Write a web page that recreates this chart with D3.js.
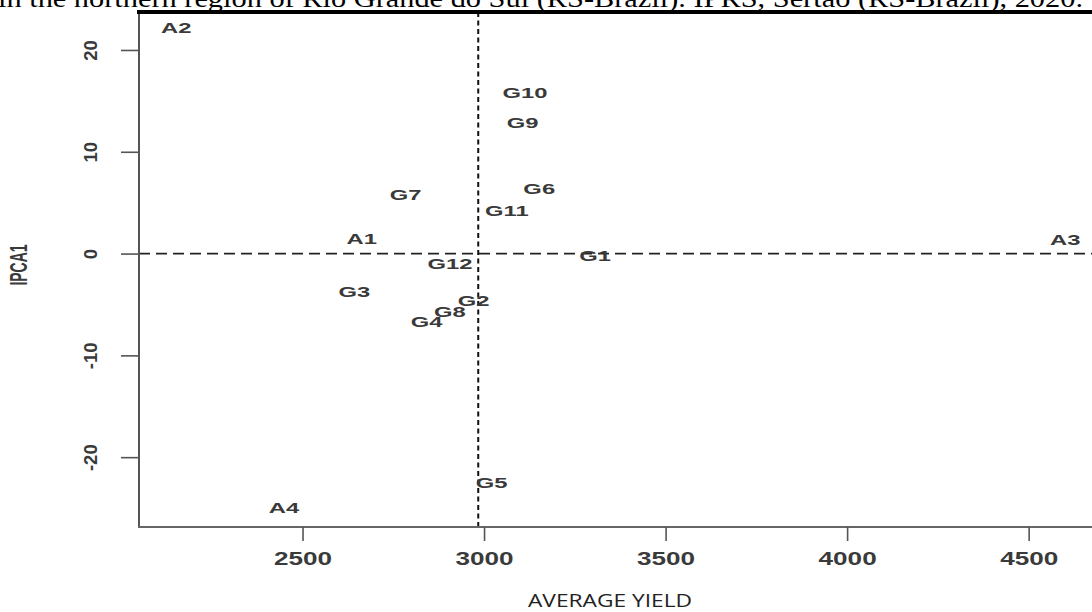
<!DOCTYPE html>
<html>
<head>
<meta charset="utf-8">
<script src="https://cdn.jsdelivr.net/npm/d3@7"></script>
<style>
  html, body { margin: 0; padding: 0; background: #fff; }
  svg { display: block; }
</style>
</head>
<body>
<svg id="chart" width="1092" height="612"></svg>
<script>
// ---- data ----
const pointLabels = ["A1","A2","A3","A4","G1","G2","G3","G4","G5","G6","G7","G8","G9","G10","G11","G12"];
const avgYield    = [2663, 2152, 4601, 2449, 3306, 2971, 2643, 2842, 3021, 3152, 2784, 2906, 3106, 3113, 3063, 2906];
const ipca1       = [1.4, 22.2, 1.3, -25.0, -0.2, -4.7, -3.8, -6.7, -22.5, 6.3, 5.8, -5.7, 12.8, 15.8, 4.2, -1.0];
const meanYield = 2984;
const xTickValues = [2500, 3000, 3500, 4000, 4500];
const yTickValues = [-20, -10, 0, 10, 20];
const xTitle = "AVERAGE YIELD";
const yTitle = "IPCA1";
const caption = "in the northern region of Rio Grande do Sul (RS-Brazil). IPRS, Sertão (RS-Brazil), 2020.";

// ---- layout ----
const svg = d3.select("#chart");
const L = 139, R = 1094, T = 12, B = 527;
const x = d3.scaleLinear().domain([2049.6, 4680]).range([L, R]);
const y = d3.scaleLinear().domain([-26.86, 23.73]).range([B, T]);
const sansFont = "'Liberation Sans', Arial, Helvetica, sans-serif";
const txtCol = "#3a3a3a";
const plainFmt = d => String(d);

// caption (cut at top, as in the source figure)
svg.append("text")
  .attr("x", -2).attr("y", 7)
  .attr("font-family", "'Liberation Serif', 'Times New Roman', serif")
  .attr("font-size", 26)
  .attr("textLength", 1085)
  .attr("lengthAdjust", "spacingAndGlyphs")
  .attr("fill", "#000")
  .text(caption);

// reference lines
svg.append("line")
  .attr("x1", L).attr("x2", R).attr("y1", y(0)).attr("y2", y(0))
  .attr("stroke", "#222").attr("stroke-width", 1.7).attr("stroke-dasharray", "11,6");
svg.append("line")
  .attr("x1", x(meanYield)).attr("x2", x(meanYield)).attr("y1", T).attr("y2", B)
  .attr("stroke", "#111").attr("stroke-width", 2).attr("stroke-dasharray", "5,3.5");

// box
svg.append("line").attr("x1", L).attr("x2", L).attr("y1", T).attr("y2", B)
  .attr("stroke", "#555").attr("stroke-width", 2);
svg.append("line").attr("x1", L - 1).attr("x2", R).attr("y1", B).attr("y2", B)
  .attr("stroke", "#666").attr("stroke-width", 2);
svg.append("line").attr("x1", L - 2).attr("x2", 1092).attr("y1", T).attr("y2", T)
  .attr("stroke", "#000").attr("stroke-width", 4);

// x axis
const gx = svg.append("g").attr("transform", `translate(0,${B})`)
  .call(d3.axisBottom(x).tickValues(xTickValues).tickSize(14).tickFormat(plainFmt));
gx.select(".domain").remove();
gx.selectAll(".tick line").attr("stroke", "#555").attr("stroke-width", 1.6);
gx.selectAll(".tick text")
  .attr("y", 38).attr("dy", null)
  .attr("transform", "scale(1.45,1)")
  .attr("font-family", sansFont).attr("font-size", 18).attr("font-weight", "bold")
  .attr("fill", txtCol);

// y axis
const gy = svg.append("g").attr("transform", `translate(${L},0)`)
  .call(d3.axisLeft(y).tickValues(yTickValues).tickSize(18).tickFormat(plainFmt));
gy.select(".domain").remove();
gy.selectAll(".tick line").attr("stroke", "#555").attr("stroke-width", 1.6);
gy.selectAll(".tick text")
  .attr("x", null).attr("dy", null)
  .attr("text-anchor", "middle")
  .attr("transform", "translate(-42,0) rotate(-90)")
  .attr("font-family", sansFont).attr("font-size", 18.5).attr("font-weight", "bold")
  .attr("fill", txtCol);

// axis titles
svg.append("text")
  .attr("x", 610).attr("y", 607)
  .attr("text-anchor", "middle")
  .attr("font-family", "'Open Sans', sans-serif")
  .attr("font-size", 18)
  .attr("textLength", 164).attr("lengthAdjust", "spacingAndGlyphs")
  .attr("fill", "#222")
  .text(xTitle);
svg.append("text")
  .attr("transform", "translate(27,265) scale(1.7,1) rotate(-90)")
  .attr("text-anchor", "middle")
  .attr("font-family", sansFont).attr("font-size", 14).attr("font-weight", "bold")
  .attr("fill", txtCol)
  .text(yTitle);

// point labels
const pts = pointLabels.map((n, i) => ({ name: n, yv: avgYield[i], pc: ipca1[i] }));
svg.append("g").selectAll("text").data(pts).enter().append("text")
  .attr("transform", d => `translate(${x(d.yv)},${y(d.pc)}) scale(1.7,1)`)
  .attr("text-anchor", "middle")
  .attr("dy", "0.36em")
  .attr("font-family", sansFont).attr("font-size", 14).attr("font-weight", "bold")
  .attr("fill", txtCol)
  .text(d => d.name);
</script>
</body>
</html>
